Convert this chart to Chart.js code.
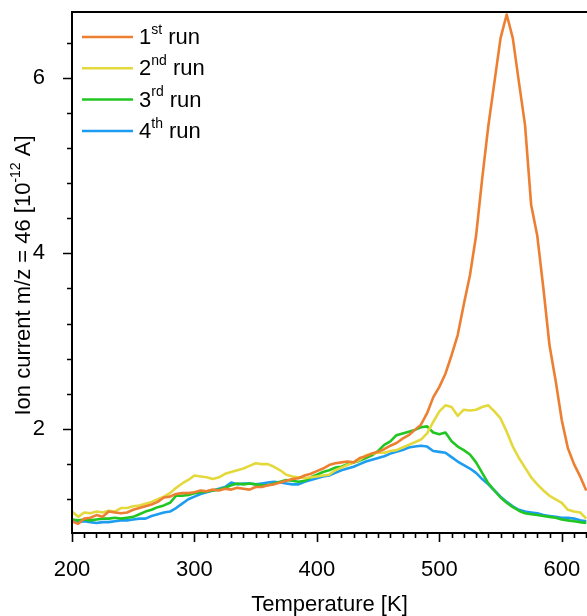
<!DOCTYPE html>
<html>
<head>
<meta charset="utf-8">
<script src="https://cdn.jsdelivr.net/npm/chart.js@4.4.1/dist/chart.umd.min.js"></script>
<style>
  html, body { margin: 0; padding: 0; background: #fff; overflow: hidden; }
</style>
</head>
<body>
<canvas id="meuGrafico" width="587" height="616"></canvas>
<script>
// temperature [K]
const temperaturas = [200, 205, 210, 215, 220, 225, 230, 235, 240, 245, 250, 255, 260, 265, 270, 275, 280, 285, 290, 295,
  300, 305, 310, 315, 320, 325, 330, 335, 340, 345, 350, 355, 360, 365, 370, 375, 380, 385, 390, 395,
  400, 405, 410, 415, 420, 425, 430, 435, 440, 445, 450, 455, 460, 465, 470, 475, 480, 485, 490, 495,
  500, 505, 510, 515, 520, 525, 530, 535, 540, 545, 550, 555, 560, 565, 570, 575, 580, 585, 590, 595,
  600, 605, 610, 615, 620];

// ion current m/z = 46 [1e-12 A]
const run1 = [0.95, 0.92, 0.98, 0.99, 1.02, 1.00, 1.06, 1.05, 1.04, 1.05, 1.08, 1.10, 1.12, 1.14, 1.17, 1.22, 1.23, 1.26, 1.27, 1.27,
  1.28, 1.30, 1.29, 1.31, 1.30, 1.32, 1.31, 1.33, 1.32, 1.31, 1.34, 1.34, 1.36, 1.37, 1.39, 1.41, 1.43, 1.44, 1.47, 1.49,
  1.52, 1.55, 1.59, 1.61, 1.62, 1.63, 1.62, 1.67, 1.69, 1.72, 1.74, 1.77, 1.81, 1.84, 1.89, 1.93, 1.99, 2.05, 2.18, 2.36,
  2.48, 2.63, 2.84, 3.07, 3.42, 3.75, 4.20, 4.85, 5.45, 5.95, 6.45, 6.72, 6.45, 5.95, 5.46, 4.55, 4.20, 3.60, 2.95, 2.55,
  2.10, 1.78, 1.60, 1.46, 1.30];
const run2 = [1.06, 1.00, 1.05, 1.04, 1.06, 1.05, 1.07, 1.06, 1.10, 1.10, 1.12, 1.13, 1.15, 1.17, 1.20, 1.23, 1.27, 1.33, 1.38, 1.42,
  1.47, 1.46, 1.45, 1.43, 1.45, 1.49, 1.51, 1.53, 1.55, 1.58, 1.61, 1.60, 1.60, 1.57, 1.53, 1.48, 1.46, 1.45, 1.44, 1.45,
  1.46, 1.47, 1.48, 1.53, 1.56, 1.59, 1.62, 1.65, 1.70, 1.72, 1.73, 1.73, 1.75, 1.76, 1.79, 1.82, 1.85, 1.88, 1.95, 2.08,
  2.20, 2.27, 2.25, 2.15, 2.22, 2.21, 2.22, 2.25, 2.27, 2.20, 2.12, 1.97, 1.80, 1.67, 1.56, 1.45, 1.37, 1.30, 1.24, 1.20,
  1.16, 1.08, 1.06, 1.05, 0.98];
const run3 = [0.97, 0.96, 0.97, 0.96, 0.97, 0.98, 0.98, 0.99, 0.98, 0.99, 1.00, 1.03, 1.06, 1.08, 1.11, 1.13, 1.16, 1.24, 1.24, 1.25,
  1.27, 1.28, 1.29, 1.30, 1.31, 1.33, 1.36, 1.38, 1.37, 1.38, 1.37, 1.36, 1.36, 1.38, 1.40, 1.42, 1.41, 1.40, 1.41, 1.45,
  1.48, 1.51, 1.53, 1.56, 1.57, 1.60, 1.62, 1.64, 1.67, 1.70, 1.75, 1.82, 1.86, 1.93, 1.95, 1.97, 1.99, 2.02, 2.03, 1.96,
  1.94, 1.96, 1.86, 1.80, 1.76, 1.71, 1.62, 1.50, 1.38, 1.30, 1.22, 1.16, 1.11, 1.07, 1.04, 1.03, 1.02, 1.01, 1.00, 0.99,
  0.97, 0.96, 0.95, 0.94, 0.93];
const run4 = [0.96, 0.94, 0.95, 0.94, 0.93, 0.94, 0.94, 0.95, 0.96, 0.96, 0.97, 0.98, 0.98, 1.01, 1.03, 1.05, 1.06, 1.10, 1.15, 1.20,
  1.23, 1.26, 1.28, 1.30, 1.32, 1.34, 1.39, 1.37, 1.38, 1.38, 1.37, 1.38, 1.39, 1.40, 1.39, 1.38, 1.37, 1.37, 1.40, 1.42,
  1.44, 1.46, 1.47, 1.50, 1.53, 1.55, 1.57, 1.60, 1.63, 1.65, 1.67, 1.69, 1.72, 1.74, 1.76, 1.79, 1.80, 1.81, 1.80, 1.75,
  1.74, 1.73, 1.68, 1.63, 1.59, 1.55, 1.50, 1.43, 1.37, 1.30, 1.23, 1.17, 1.12, 1.08, 1.06, 1.05, 1.04, 1.02, 1.01, 1.00,
  0.99, 0.99, 0.98, 0.96, 0.95];

const numeros = ['1', '2', '3', '4'];
const sufixos = ['st', 'nd', 'rd', 'th'];
const cores = ['#ED7F32', '#E4D93C', '#22C622', '#1E9DF0'];
const xTicks = [200, 300, 400, 500, 600];
const yTicks = [2, 4, 6];

const fonte = "'Liberation Sans', Arial, sans-serif";

function pontos(valores) {
  return valores.map((v, i) => ({ x: temperaturas[i], y: v }));
}

// frame, minor/major ticks, legend and y title with superscripts
const extras = {
  id: 'extras',
  afterDraw(chart) {
    const { ctx, chartArea: a, scales: { x, y } } = chart;
    ctx.save();
    ctx.strokeStyle = '#000';
    ctx.lineWidth = 2;
    ctx.beginPath();
    ctx.moveTo(a.right + 2, a.top);
    ctx.lineTo(a.left, a.top);
    ctx.lineTo(a.left, a.bottom);
    ctx.lineTo(a.right + 2, a.bottom);
    ctx.stroke();

    ctx.lineWidth = 1.6;
    ctx.beginPath();
    for (let t = 200; t <= 620; t += 10) {
      const px = Math.round(x.getPixelForValue(t)) + 0.5;
      const len = t % 100 === 0 ? 9 : 5;
      ctx.moveTo(px, a.bottom);
      ctx.lineTo(px, a.bottom + len);
    }
    for (let k = -3; k <= 12; k++) {
      const v = 2 + k * 0.4;
      if (v < y.min || v > y.max) continue;
      const py = Math.round(y.getPixelForValue(v)) + 0.5;
      const major = Math.abs(v / 2 - Math.round(v / 2)) < 1e-6;
      ctx.moveTo(a.left, py);
      ctx.lineTo(a.left - (major ? 9 : 5), py);
    }
    ctx.stroke();

    // legend
    ctx.textBaseline = 'middle';
    chart.data.datasets.forEach((ds, i) => {
      const ly = a.top + 25 + i * 31.3;
      ctx.strokeStyle = ds.borderColor;
      ctx.lineWidth = 2.5;
      ctx.beginPath();
      ctx.moveTo(a.left + 10, ly);
      ctx.lineTo(a.left + 61, ly);
      ctx.stroke();
      ctx.fillStyle = '#000';
      let tx = a.left + 67;
      ctx.font = '22px ' + fonte;
      ctx.fillText(numeros[i], tx, ly + 1);
      tx += ctx.measureText(numeros[i]).width;
      ctx.font = '14px ' + fonte;
      ctx.fillText(sufixos[i], tx, ly - 7);
      tx += ctx.measureText(sufixos[i]).width;
      ctx.font = '22px ' + fonte;
      ctx.fillText(' run', tx, ly + 1);
    });

    // y title
    const t1 = 'Ion current m/z = 46 [10';
    const t2 = '-12';
    const t3 = ' A]';
    ctx.translate(23, (a.top + a.bottom) / 2 + 3);
    ctx.rotate(-Math.PI / 2);
    ctx.font = '22px ' + fonte;
    const w1 = ctx.measureText(t1).width;
    const w3 = ctx.measureText(t3).width;
    ctx.font = '14px ' + fonte;
    const w2 = ctx.measureText(t2).width;
    let sx = -(w1 + w2 + w3) / 2;
    ctx.fillStyle = '#000';
    ctx.font = '22px ' + fonte;
    ctx.fillText(t1, sx, 1);
    sx += w1;
    ctx.font = '14px ' + fonte;
    ctx.fillText(t2, sx, -7);
    sx += w2;
    ctx.font = '22px ' + fonte;
    ctx.fillText(t3, sx, 1);
    ctx.restore();
  }
};

const ctx = document.getElementById('meuGrafico').getContext('2d');
const meuGrafico = new Chart(ctx, {
  type: 'line',
  data: {
    datasets: [run1, run2, run3, run4].map((serie, i) => ({
      label: numeros[i] + sufixos[i] + ' run',
      data: pontos(serie),
      borderColor: cores[i],
      borderWidth: 2.6,
      pointRadius: 0,
      tension: 0,
      fill: false,
      borderJoinStyle: 'round'
    }))
  },
  options: {
    responsive: false,
    animation: false,
    layout: { padding: { top: 12, right: 0, bottom: 0, left: 0 } },
    plugins: { legend: { display: false }, tooltip: { enabled: false } },
    scales: {
      x: {
        type: 'linear',
        min: 200,
        max: 620.6,
        afterBuildTicks: (s) => { s.ticks = xTicks.map(v => ({ value: v })); },
        afterFit: (s) => { s.height = 83; s.paddingLeft = 0; s.paddingRight = 0; },
        grid: { display: false },
        border: { display: false },
        ticks: { color: '#000', padding: 16, maxRotation: 0, autoSkip: false, font: { family: fonte, size: 22 } },
        title: { display: true, text: 'Temperature [K]', color: '#000', padding: 0, font: { family: fonte, size: 22, lineHeight: 1 } }
      },
      y: {
        type: 'linear',
        min: 0.816,
        max: 6.748,
        afterBuildTicks: (s) => { s.ticks = yTicks.map(v => ({ value: v })); },
        afterFit: (s) => { s.width = 72; s.paddingTop = 0; s.paddingBottom = 0; },
        grid: { display: false },
        border: { display: false },
        ticks: { color: '#000', padding: 19, font: { family: fonte, size: 22 } }
      }
    }
  },
  plugins: [extras]
});
</script>
</body>
</html>
